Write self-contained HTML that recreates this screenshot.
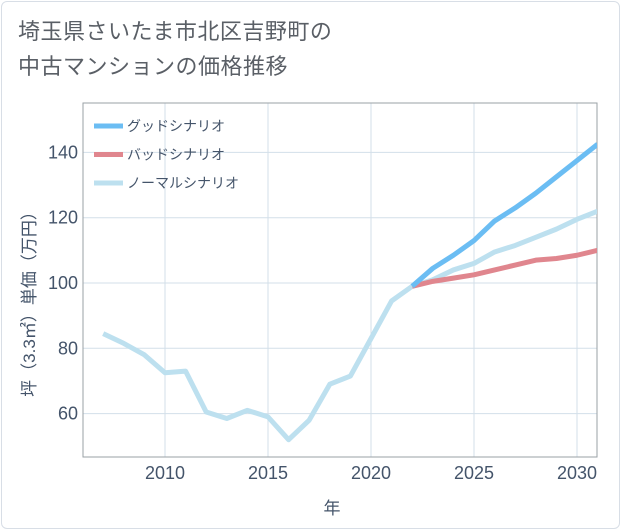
<!DOCTYPE html>
<html><head><meta charset="utf-8">
<style>
body{margin:0;width:621px;height:530px;background:#fff;overflow:hidden;font-family:"Liberation Sans","Noto Sans CJK JP",sans-serif}
#card{position:absolute;left:1px;top:1px;width:617px;height:526px;border:1px solid #d8dee6;border-radius:6px;background:#fff}
#title{position:absolute;left:18px;top:14px;font-size:22px;line-height:35px;color:#5a5f66;letter-spacing:0.5px}
svg{position:absolute;left:0;top:0}
</style></head><body>
<div id="card"></div>
<div id="title">埼玉県さいたま市北区吉野町の<br>中古マンションの価格推移</div>
<svg id="chart" width="621" height="530"></svg>
<script>
const years=[2007,2008,2009,2010,2011,2012,2013,2014,2015,2016,2017,2018,2019,2020,2021,2022,2023,2024,2025,2026,2027,2028,2029,2030,2031];
const normalValues=[84.5,81.5,78,72.5,73,60.5,58.5,61,59,52,58,69,71.5,83,94.5,99,101,104,106,109.5,111.5,114,116.5,119.5,122];
const futureYears=[2022,2023,2024,2025,2026,2027,2028,2029,2030,2031];
const goodValues=[99,104.5,108.5,113,119,123,127.5,132.5,137.5,142.5];
const badValues=[99,100.5,101.5,102.5,104,105.5,107,107.5,108.5,110];
const xTicks=[2010,2015,2020,2025,2030];
const yTicks=[60,80,100,120,140];
const L=83,R=597,T=103,B=457;
const x=v=>165+(v-2010)*20.6;
const y=v=>283-(v-100)*3.265;
const svg=document.getElementById('chart');
const NS='http://www.w3.org/2000/svg';
function mk(t,a){const e=document.createElementNS(NS,t);for(const k in a)e.setAttribute(k,a[k]);svg.appendChild(e);return e;}
xTicks.forEach(v=>{
 const g=mk('line',{x1:x(v),x2:x(v),y1:T,y2:B,stroke:'#d3dfe9','stroke-width':1});
 
 
 const t=mk('text',{x:x(v),y:479,'text-anchor':'middle','font-size':18,fill:'#44546a'});t.textContent=v;
 
 
});
yTicks.forEach(v=>{
 const g=mk('line',{x1:L,x2:R,y1:y(v),y2:y(v),stroke:'#d3dfe9','stroke-width':1});
 
 
 const t=mk('text',{x:78,y:y(v)+6,'text-anchor':'end','font-size':18,fill:'#44546a'});t.textContent=v;
 
 
});
const box=mk('rect',{x:L,y:T,width:R-L,height:B-T,fill:'none',stroke:'#9aa0a6','stroke-width':1});


const clip=mk('clipPath',{id:'c'});const cr=document.createElementNS(NS,'rect');
cr.setAttribute('x',L);cr.setAttribute('y',T);cr.setAttribute('width',R-L);cr.setAttribute('height',B-T);clip.appendChild(cr);
function line(xs,vs,color,name){
 const p=mk('polyline',{points:xs.map((a,i)=>x(a)+','+y(vs[i])).join(' '),fill:'none',stroke:color,'stroke-width':5,'stroke-linejoin':'round','clip-path':'url(#c)'});
 
 
}
line(years,normalValues,'#bde0ef','normal-scenario-line');
line(futureYears,badValues,'#e0868e','bad-scenario-line');
line(futureYears,goodValues,'#6bbdf3','good-scenario-line');
const leg=[['グッドシナリオ','#6bbdf3'],['バッドシナリオ','#e0868e'],['ノーマルシナリオ','#bde0ef']];
leg.forEach((l,i)=>{
 const yy=126+i*28.5;
 const s=mk('line',{x1:94,x2:123,y1:yy,y2:yy,stroke:l[1],'stroke-width':5});
 
 
 const t=mk('text',{x:127,y:yy+5,'font-size':14,fill:'#44546a'});t.textContent=l[0];
 
 
});
const xt=mk('text',{x:332,y:514,'text-anchor':'middle','font-size':17,fill:'#44546a'});xt.textContent='年';


const yt=mk('text',{x:0,y:0,'text-anchor':'middle','font-size':17,fill:'#44546a',transform:'translate(35,300) rotate(-90)'});yt.textContent='坪（3.3㎡）単価（万円）';


</script>
</body></html>
